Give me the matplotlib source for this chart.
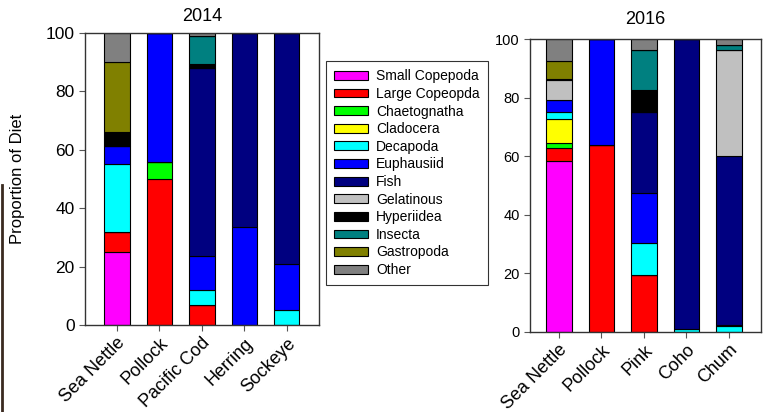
import numpy as np
import matplotlib
matplotlib.use("Agg")
import matplotlib.pyplot as plt
from matplotlib.patches import Patch
from matplotlib.lines import Line2D

plt.rcParams['font.family'] = ['Liberation Sans', 'DejaVu Sans']

prey = ['Small Copepoda', 'Large Copeopda', 'Chaetognatha', 'Cladocera', 'Decapoda',
        'Euphausiid', 'Fish', 'Gelatinous', 'Hyperiidea', 'Insecta', 'Gastropoda', 'Other']
colors = ['#FF00FF', '#FF0000', '#00FF00', '#FFFF00', '#00FFFF', '#0000FF',
          '#000080', '#C0C0C0', '#000000', '#008080', '#808000', '#808080']

pred_2014 = ['Sea Nettle', 'Pollock', 'Pacific Cod', 'Herring', 'Sockeye']
pred_2016 = ['Sea Nettle', 'Pollock', 'Pink', 'Coho', 'Chum']

# rows = prey (same order as prey list), columns = predators
diet_2014 = np.array([
    [25.0, 0.0, 0.0, 0.0, 0.0],    # Small Copepoda
    [7.0, 50.0, 6.8, 0.0, 0.0],    # Large Copepoda
    [0.0, 5.7, 0.0, 0.0, 0.0],     # Chaetognatha
    [0.0, 0.0, 0.0, 0.0, 0.0],     # Cladocera
    [23.0, 0.0, 5.2, 0.0, 5.1],    # Decapoda
    [6.4, 44.3, 11.5, 33.4, 15.8], # Euphausiid
    [0.0, 0.0, 64.6, 66.6, 79.1],  # Fish
    [0.0, 0.0, 0.0, 0.0, 0.0],     # Gelatinous
    [4.6, 0.0, 1.2, 0.0, 0.0],     # Hyperiidea
    [0.0, 0.0, 9.8, 0.0, 0.0],     # Insecta
    [24.2, 0.0, 0.0, 0.0, 0.0],    # Gastropoda
    [9.8, 0.0, 0.9, 0.0, 0.0],     # Other
])

diet_2016 = np.array([
    [58.4, 0.0, 0.0, 0.0, 0.0],    # Small Copepoda
    [4.3, 63.7, 19.4, 0.0, 0.0],   # Large Copepoda
    [1.7, 0.0, 0.0, 0.0, 0.0],     # Chaetognatha
    [8.2, 0.0, 0.0, 0.0, 0.0],     # Cladocera
    [2.4, 0.0, 10.8, 0.8, 1.9],    # Decapoda
    [4.1, 36.3, 17.2, 0.0, 0.5],   # Euphausiid
    [0.0, 0.0, 27.6, 99.2, 57.6],  # Fish
    [7.0, 0.0, 0.0, 0.0, 36.3],    # Gelatinous
    [0.4, 0.0, 7.7, 0.0, 0.0],     # Hyperiidea
    [0.0, 0.0, 13.8, 0.0, 1.9],    # Insecta
    [6.1, 0.0, 0.0, 0.0, 0.0],     # Gastropoda
    [7.4, 0.0, 3.5, 0.0, 1.8],     # Other
])


def stacked(ax, names, data, title, tick_size, title_pad, xlim):
    x = np.arange(len(names))
    bottom = np.zeros(len(names))
    for i in range(len(prey)):
        ax.bar(x, data[i], 0.6, bottom=bottom, color=colors[i],
               edgecolor='black', linewidth=0.8)
        bottom += data[i]
    ax.set_xlim(*xlim)
    ax.set_ylim(0, 100)
    ax.set_yticks(range(0, 101, 20))
    ax.set_xticks(x)
    ax.set_xticklabels(names, rotation=45, ha='right', rotation_mode='anchor',
                       fontsize=13)
    ax.tick_params(axis='y', labelsize=tick_size, direction='out', length=4, color='#555555')
    ax.tick_params(axis='x', direction='out', length=4, color='#555555', pad=3)
    for s in ax.spines.values():
        s.set_color('#333333')
        s.set_linewidth(1.0)
    ax.set_title(title, fontsize=13, pad=title_pad)


fig = plt.figure(figsize=(7.71, 4.12), dpi=100)
ax1 = fig.add_axes([85 / 771, 0.2112, 234 / 771, 0.7087])
ax2 = fig.add_axes([0.6874, 0.1949, 0.2992, 0.7097])

stacked(ax1, pred_2014, diet_2014, '2014', 12.5, 9, (-0.75, 4.76))
stacked(ax2, pred_2016, diet_2016, '2016', 10.5, 11, (-0.68, 4.75))
ax1.set_ylabel('Proportion of Diet', fontsize=12)
ax1.yaxis.set_label_coords(-0.255, 0.50)

handles = [Patch(facecolor=c, edgecolor='black', linewidth=0.8) for c in colors]
leg = fig.legend(handles, prey, loc='upper left', bbox_to_anchor=(326 / 771, 1 - 61 / 412),
                 fontsize=10, frameon=True, fancybox=False, edgecolor='black',
                 handlelength=2.4, handleheight=0.6, labelspacing=0.26,
                 borderpad=0.6, handletextpad=0.6, borderaxespad=0)
leg.get_frame().set_linewidth(0.8)

# dark edge line seen at the far left of the image
fig.add_artist(Line2D([0.002, 0.002], [0.0, 1 - 185 / 412], color='#3a2a20', linewidth=2))

fig.savefig('out.png', dpi=100)
